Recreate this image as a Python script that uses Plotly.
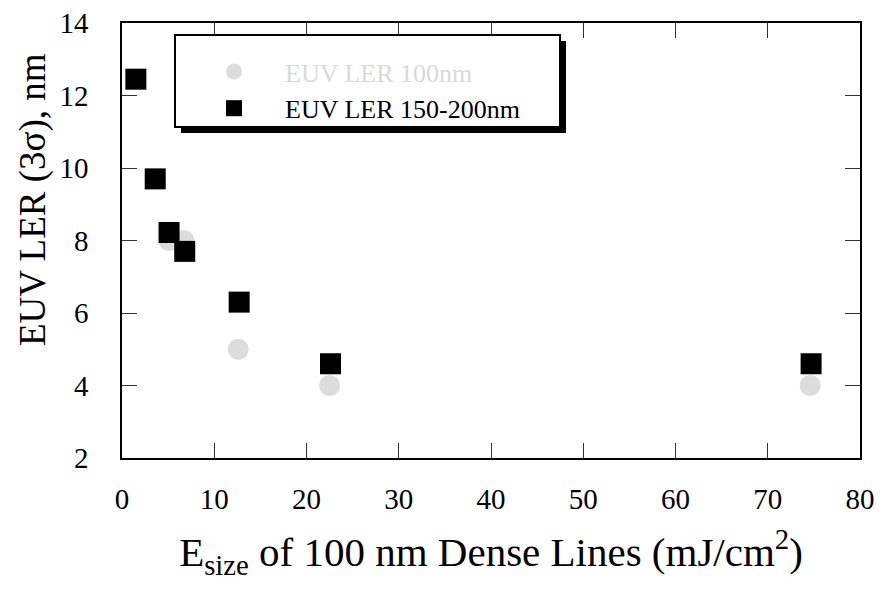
import plotly.graph_objects as go

# Data
x_100 = [5.1, 6.7, 12.6, 22.5, 74.6]
y_100 = [8.0, 8.0, 5.0, 4.0, 4.0]
x_150 = [1.5, 3.6, 5.1, 6.8, 12.7, 22.6, 74.7]
y_150 = [12.45, 9.7, 8.22, 7.7, 6.3, 4.6, 4.6]

x_ticks = [0, 10, 20, 30, 40, 50, 60, 70, 80]
y_ticks = [2, 4, 6, 8, 10, 12, 14]

FONT = '"Liberation Serif", "Times New Roman", Times, serif'
OFF = 8  # page body margin
W, H = 889 - OFF, 594 - OFF
L, R, T, B = 122 - OFF, 29, 23 - OFF, 136
PW, PH = W - L - R, H - T - B


def px(xp):
    return (xp - OFF - L) / PW


def py(yp):
    return (H - B - (yp - OFF)) / PH


fig = go.Figure()
fig.add_trace(go.Scatter(
    x=x_100, y=y_100, mode="markers",
    name='<span style="color:#d9d9d9">EUV LER 100nm</span>',
    marker=dict(symbol="circle", size=21, color="#dcdcdc", line=dict(width=0)),
))
fig.add_trace(go.Scatter(
    x=x_150, y=y_150, mode="markers",
    name="EUV LER 150-200nm",
    marker=dict(symbol="square", size=21, color="black", line=dict(width=0)),
))

axis_common = dict(
    showline=True, linecolor="black", linewidth=1.5, mirror="ticks",
    ticks="inside", ticklen=15, tickwidth=1, tickcolor="#333",
    showgrid=False, zeroline=False, ticklabeloverflow="allow", automargin=False,
    tickfont=dict(family=FONT, size=29, color="black"),
)

fig.update_xaxes(range=[0, 80], tickvals=x_ticks, ticktext=[str(v) for v in x_ticks],
                 ticklabelstandoff=14,
                 title=dict(text="E<sub>size</sub> of 100 nm Dense Lines (mJ/cm<sup>2</sup>)",
                            font=dict(family=FONT, size=41, color="black"), standoff=24),
                 **axis_common)
fig.update_yaxes(range=[2, 14], tickvals=y_ticks, ticktext=[str(v) for v in y_ticks],
                 ticklabelstandoff=26, **axis_common)

# legend box with shadow
fig.add_shape(type="rect", xref="paper", yref="paper",
              x0=px(181), x1=px(566), y0=py(133), y1=py(41),
              fillcolor="black", line=dict(width=0), layer="above")
fig.add_shape(type="rect", xref="paper", yref="paper",
              x0=px(175), x1=px(560), y0=py(127), y1=py(35),
              fillcolor="white", line=dict(color="black", width=2), layer="above")

fig.add_annotation(text="EUV LER (3σ), nm", textangle=-90, xref="paper", yref="paper",
                   x=px(33), y=py(200), xanchor="center", yanchor="middle", showarrow=False,
                   font=dict(family=FONT, size=37, color="black"))

fig.update_layout(
    width=W, height=H,
    margin=dict(l=L, r=R, t=T, b=B, autoexpand=False),
    paper_bgcolor="white", plot_bgcolor="white",
    showlegend=True,
    legend=dict(x=px(183), y=py(48), xanchor="left", yanchor="top",
                bgcolor="rgba(0,0,0,0)", borderwidth=0, itemwidth=92,
                font=dict(family=FONT, size=26, color="black")),
)

fig.write_html("out.html")
